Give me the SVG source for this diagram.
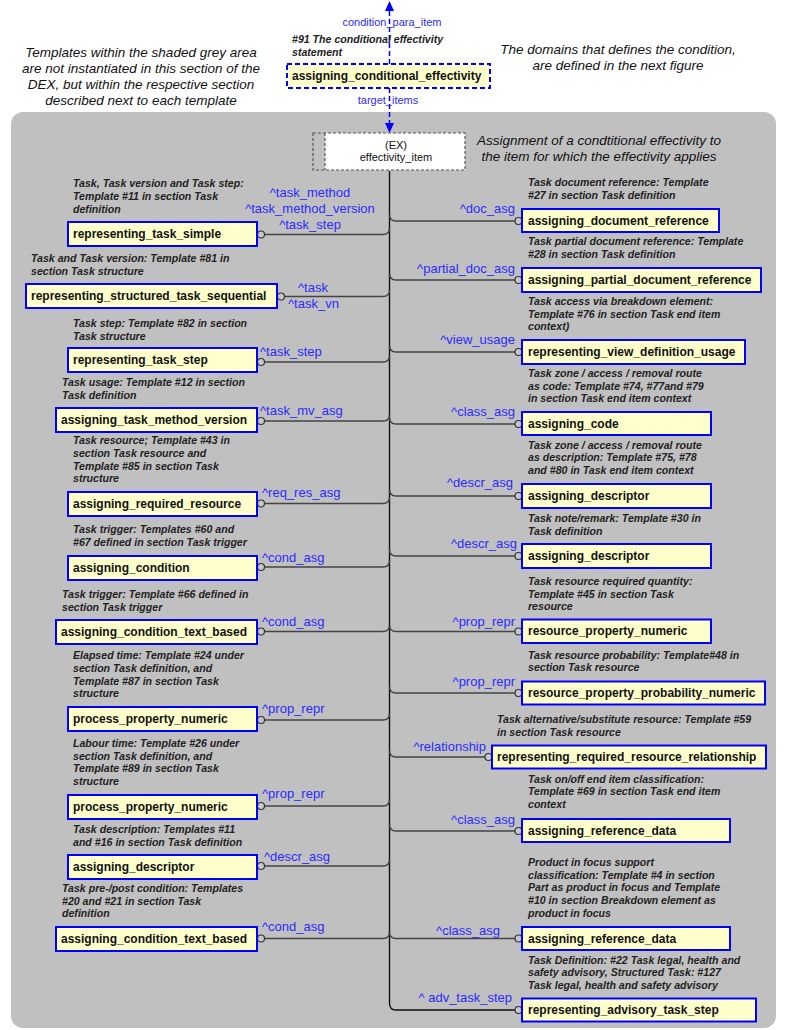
<svg xmlns="http://www.w3.org/2000/svg" width="787" height="1030" viewBox="0 0 787 1030">
<style>
.node{fill:#ffffcc;stroke:#0000ff;stroke-width:2}
.nt{font-family:"Liberation Sans",Arial,sans-serif;font-size:12px;font-weight:bold;fill:#111}
.ann{font-family:"Liberation Sans",Arial,sans-serif;font-size:10.6px;font-weight:bold;font-style:italic;fill:#222}
.lbl{font-family:"Liberation Sans",Arial,sans-serif;font-size:13px;fill:#2b2bff}
.sml{font-family:"Liberation Sans",Arial,sans-serif;font-size:11px;fill:#2b2bff}
.note{font-family:"Liberation Sans",Arial,sans-serif;font-size:13.5px;font-style:italic;fill:#111}
.conn{fill:none;stroke:#444;stroke-width:1.4}
.end{fill:#c8c8c8;stroke:#333;stroke-width:1.2}
.dash{fill:none;stroke:#0000ff;stroke-width:1.5;stroke-dasharray:5,3}
</style>
<rect x="11" y="112" width="765" height="916" rx="12" fill="#c0c0c0"/>
<text class="note" text-anchor="middle"><tspan x="141" y="57">Templates within the shaded grey area</tspan><tspan x="141" y="73">are not instantiated in this section of the</tspan><tspan x="141" y="89">DEX, but within the respective section</tspan><tspan x="141" y="105">described next to each template</tspan></text>
<text class="note" text-anchor="middle"><tspan x="618" y="54">The domains that defines the condition,</tspan><tspan x="618" y="70">are defined in the next figure</tspan></text>
<text class="note" text-anchor="middle"><tspan x="599" y="145">Assignment of a condtitional effectivity to</tspan><tspan x="599" y="161">the item for which the effectivity applies</tspan></text>

<g id="connectors">
<path class="dash" d="M389.5,64 V10"/>
<polygon points="389.5,1 385,11 394,11" fill="#0000ff"/>
<path class="dash" d="M389.5,88 V124"/>
<polygon points="389.5,133 385,123 394,123" fill="#0000ff"/>
<text class="sml" x="392" y="26" text-anchor="middle">condition_para_item</text>
<text class="sml" x="388" y="104" text-anchor="middle">target_items</text>
<path d="M389.5,171 V1003 Q389.5,1010 396,1010 H515" fill="none" stroke="#111" stroke-width="1.4"/>
<!-- left connectors -->
<path class="conn" d="M264.5,234.5 H383 Q389.5,234.5 389.5,228"/>
<path class="conn" d="M284.5,296.5 H383 Q389.5,296.5 389.5,290"/>
<path class="conn" d="M264.5,362 H383 Q389.5,362 389.5,355.5"/>
<path class="conn" d="M264.5,421 H383 Q389.5,421 389.5,414.5"/>
<path class="conn" d="M264.5,503.5 H383 Q389.5,503.5 389.5,497"/>
<path class="conn" d="M264.5,567 H383 Q389.5,567 389.5,560.5"/>
<path class="conn" d="M264.5,631.5 H383 Q389.5,631.5 389.5,625"/>
<path class="conn" d="M264.5,720 H383 Q389.5,720 389.5,713.5"/>
<path class="conn" d="M264.5,806 H383 Q389.5,806 389.5,799.5"/>
<path class="conn" d="M264.5,866 H383 Q389.5,866 389.5,859.5"/>
<path class="conn" d="M264.5,938.5 H383 Q389.5,938.5 389.5,932"/>
<circle class="end" cx="261" cy="234.5" r="3.5"/>
<circle class="end" cx="281" cy="296.5" r="3.5"/>
<circle class="end" cx="261" cy="362" r="3.5"/>
<circle class="end" cx="261" cy="421" r="3.5"/>
<circle class="end" cx="261" cy="503.5" r="3.5"/>
<circle class="end" cx="261" cy="567" r="3.5"/>
<circle class="end" cx="261" cy="631.5" r="3.5"/>
<circle class="end" cx="261" cy="720" r="3.5"/>
<circle class="end" cx="261" cy="806" r="3.5"/>
<circle class="end" cx="261" cy="866" r="3.5"/>
<circle class="end" cx="261" cy="938.5" r="3.5"/>
<!-- right connectors -->
<path class="conn" d="M389.5,214.5 Q389.5,221 396,221 H515"/>
<path class="conn" d="M389.5,273.5 Q389.5,280 396,280 H515"/>
<path class="conn" d="M389.5,345.5 Q389.5,352 396,352 H515"/>
<path class="conn" d="M389.5,417.5 Q389.5,424 396,424 H515"/>
<path class="conn" d="M389.5,489.5 Q389.5,496 396,496 H515"/>
<path class="conn" d="M389.5,549.5 Q389.5,556 396,556 H515"/>
<path class="conn" d="M389.5,625 Q389.5,631.5 396,631.5 H515"/>
<path class="conn" d="M389.5,686.5 Q389.5,693 396,693 H515"/>
<path class="conn" d="M389.5,750.5 Q389.5,757 396,757 H485"/>
<path class="conn" d="M389.5,824.5 Q389.5,831 396,831 H515"/>
<path class="conn" d="M389.5,932 Q389.5,938.5 396,938.5 H515"/>
<circle class="end" cx="518.5" cy="221" r="3.5"/>
<circle class="end" cx="518.5" cy="280" r="3.5"/>
<circle class="end" cx="518.5" cy="352" r="3.5"/>
<circle class="end" cx="518.5" cy="424" r="3.5"/>
<circle class="end" cx="518.5" cy="496" r="3.5"/>
<circle class="end" cx="518.5" cy="556" r="3.5"/>
<circle class="end" cx="518.5" cy="631.5" r="3.5"/>
<circle class="end" cx="518.5" cy="693" r="3.5"/>
<circle class="end" cx="488.5" cy="757" r="3.5"/>
<circle class="end" cx="518.5" cy="831" r="3.5"/>
<circle class="end" cx="518.5" cy="938.5" r="3.5"/>
<circle class="end" cx="518.5" cy="1010" r="3.5"/>
<!-- left labels -->
<text class="lbl" text-anchor="middle"><tspan x="310" y="197">^task_method</tspan><tspan x="310" y="213">^task_method_version</tspan><tspan x="310" y="229">^task_step</tspan></text>
<text class="lbl" x="298" y="292">^task</text>
<text class="lbl" x="288" y="308">^task_vn</text>
<text class="lbl" x="260" y="356">^task_step</text>
<text class="lbl" x="260" y="415">^task_mv_asg</text>
<text class="lbl" x="262" y="497">^req_res_asg</text>
<text class="lbl" x="262" y="562">^cond_asg</text>
<text class="lbl" x="262" y="626">^cond_asg</text>
<text class="lbl" x="262" y="713">^prop_repr</text>
<text class="lbl" x="262" y="798">^prop_repr</text>
<text class="lbl" x="264" y="861">^descr_asg</text>
<text class="lbl" x="262" y="931">^cond_asg</text>
<!-- right labels -->
<g class="lbl" text-anchor="end">
<text x="515" y="213">^doc_asg</text>
<text x="515" y="273">^partial_doc_asg</text>
<text x="515" y="344">^view_usage</text>
<text x="515" y="416">^class_asg</text>
<text x="513" y="487">^descr_asg</text>
<text x="517" y="548">^descr_asg</text>
<text x="515" y="626">^prop_repr</text>
<text x="515" y="686">^prop_repr</text>
<text x="486" y="751">^relationship</text>
<text x="515" y="824">^class_asg</text>
<text x="500" y="935">^class_asg</text>
<text x="512" y="1002">^ adv_task_step</text>
</g>
</g>

<g id="n_assigning_conditional_effectivity">
<rect x="287" y="64" width="203" height="24" fill="#ffffcc" stroke="#0000ff" stroke-width="2" stroke-dasharray="5,3"/>
<text class="nt" x="292" y="80">assigning_conditional_effectivity</text>
<text class="ann"><tspan x="292" y="43">#91 The conditional effectivity</tspan><tspan x="292" y="56">statement</tspan></text>
</g>

<g id="n_effectivity_item">
<rect x="325" y="133" width="140" height="37" fill="#ffffff"/>
<rect x="313" y="133" width="152" height="37" fill="none" stroke="#555" stroke-width="1.2" stroke-dasharray="3,2"/>
<line x1="325" y1="133" x2="325" y2="170" stroke="#555" stroke-width="1.2" stroke-dasharray="3,2"/>
<text x="396" y="149" text-anchor="middle" font-family="Liberation Sans, Arial, sans-serif" font-size="11" fill="#111">(EX)</text>
<text x="396" y="161" text-anchor="middle" font-family="Liberation Sans, Arial, sans-serif" font-size="11" fill="#111">effectivity_item</text>
</g>

<g id="L1"><rect class="node" x="68" y="222" width="189" height="24"/><text class="nt" x="73" y="238">representing_task_simple</text>
<text class="ann"><tspan x="73" y="187">Task, Task version and Task step:</tspan><tspan x="73" y="200">Template #11 in section Task</tspan><tspan x="73" y="213">definition</tspan></text></g>
<g id="L2"><rect class="node" x="26" y="284" width="251" height="24"/><text class="nt" x="31" y="300">representing_structured_task_sequential</text>
<text class="ann"><tspan x="31" y="262">Task and Task version: Template #81 in</tspan><tspan x="31" y="274.5">section Task structure</tspan></text></g>
<g id="L3"><rect class="node" x="68" y="348" width="189" height="24"/><text class="nt" x="73" y="364">representing_task_step</text>
<text class="ann"><tspan x="73" y="327">Task step: Template #82 in section</tspan><tspan x="73" y="339.5">Task structure</tspan></text></g>
<g id="L4"><rect class="node" x="56" y="408" width="201" height="24"/><text class="nt" x="61" y="424">assigning_task_method_version</text>
<text class="ann"><tspan x="62" y="386">Task usage: Template #12 in section</tspan><tspan x="62" y="398.5">Task definition</tspan></text></g>
<g id="L5"><rect class="node" x="68" y="492" width="189" height="24"/><text class="nt" x="73" y="508">assigning_required_resource</text>
<text class="ann"><tspan x="73" y="444">Task resource; Template #43 in</tspan><tspan x="73" y="457">section Task resource and</tspan><tspan x="73" y="470">Template #85 in section Task</tspan><tspan x="73" y="482">structure</tspan></text></g>
<g id="L6"><rect class="node" x="68" y="556" width="189" height="24"/><text class="nt" x="73" y="572">assigning_condition</text>
<text class="ann"><tspan x="73" y="533">Task trigger: Templates #60 and</tspan><tspan x="73" y="546">#67 defined in section Task trigger</tspan></text></g>
<g id="L7"><rect class="node" x="56" y="620" width="201" height="24"/><text class="nt" x="61" y="636">assigning_condition_text_based</text>
<text class="ann"><tspan x="62" y="598">Task trigger: Template #66 defined in</tspan><tspan x="62" y="610.5">section Task trigger</tspan></text></g>
<g id="L8"><rect class="node" x="68" y="707" width="189" height="24"/><text class="nt" x="73" y="723">process_property_numeric</text>
<text class="ann"><tspan x="73" y="659">Elapsed time: Template #24 under</tspan><tspan x="73" y="672">section Task definition, and</tspan><tspan x="73" y="685">Template #87 in section Task</tspan><tspan x="73" y="697">structure</tspan></text></g>
<g id="L9"><rect class="node" x="68" y="795" width="189" height="24"/><text class="nt" x="73" y="811">process_property_numeric</text>
<text class="ann"><tspan x="73" y="747">Labour time: Template #26 under</tspan><tspan x="73" y="759.5">section Task definition, and</tspan><tspan x="73" y="772">Template #89 in section Task</tspan><tspan x="73" y="785">structure</tspan></text></g>
<g id="L10"><rect class="node" x="68" y="855" width="189" height="24"/><text class="nt" x="73" y="871">assigning_descriptor</text>
<text class="ann"><tspan x="73" y="833">Task description: Templates #11</tspan><tspan x="73" y="846">and #16 in section Task definition</tspan></text></g>
<g id="L11"><rect class="node" x="56" y="927" width="201" height="24"/><text class="nt" x="61" y="943">assigning_condition_text_based</text>
<text class="ann"><tspan x="62" y="892">Task pre-/post condition: Templates</tspan><tspan x="62" y="905">#20 and #21 in section Task</tspan><tspan x="62" y="917">definition</tspan></text></g>

<g id="R1"><rect class="node" x="522" y="209" width="197" height="23"/><text class="nt" x="528" y="225">assigning_document_reference</text>
<text class="ann"><tspan x="528" y="186">Task document reference: Template</tspan><tspan x="528" y="199">#27 in section Task definition</tspan></text></g>
<g id="R2"><rect class="node" x="522" y="268" width="239" height="24"/><text class="nt" x="528" y="284">assigning_partial_document_reference</text>
<text class="ann"><tspan x="528" y="245">Task partial document reference: Template</tspan><tspan x="528" y="258">#28 in section Task definition</tspan></text></g>
<g id="R3"><rect class="node" x="522" y="340" width="223" height="24"/><text class="nt" x="528" y="356">representing_view_definition_usage</text>
<text class="ann"><tspan x="528" y="305">Task access via breakdown element:</tspan><tspan x="528" y="318">Template #76 in section Task end item</tspan><tspan x="528" y="330">context)</tspan></text></g>
<g id="R4"><rect class="node" x="522" y="412" width="189" height="23"/><text class="nt" x="528" y="428">assigning_code</text>
<text class="ann"><tspan x="528" y="377">Task zone / access / removal route</tspan><tspan x="528" y="389.5">as code: Template #74, #77and #79</tspan><tspan x="528" y="402">in section Task end item context</tspan></text></g>
<g id="R5"><rect class="node" x="522" y="484" width="189" height="24"/><text class="nt" x="528" y="500">assigning_descriptor</text>
<text class="ann"><tspan x="528" y="448.5">Task zone / access / removal route</tspan><tspan x="528" y="461">as description: Template #75, #78</tspan><tspan x="528" y="473.5">and #80 in Task end item context</tspan></text></g>
<g id="R6"><rect class="node" x="522" y="544" width="189" height="24"/><text class="nt" x="528" y="560">assigning_descriptor</text>
<text class="ann"><tspan x="528" y="522">Task note/remark: Template #30 in</tspan><tspan x="528" y="534.5">Task definition</tspan></text></g>
<g id="R7"><rect class="node" x="522" y="619.5" width="189" height="23.5"/><text class="nt" x="528" y="635">resource_property_numeric</text>
<text class="ann"><tspan x="528" y="585">Task resource required quantity:</tspan><tspan x="528" y="598">Template #45 in section Task</tspan><tspan x="528" y="610">resource</tspan></text></g>
<g id="R8"><rect class="node" x="522" y="681.5" width="243" height="23"/><text class="nt" x="528" y="697">resource_property_probability_numeric</text>
<text class="ann"><tspan x="528" y="658.5">Task resource probability: Template#48 in</tspan><tspan x="528" y="671">section Task resource</tspan></text></g>
<g id="R9"><rect class="node" x="492" y="745.5" width="274" height="23"/><text class="nt" x="497" y="761">representing_required_resource_relationship</text>
<text class="ann"><tspan x="497" y="723">Task alternative/substitute resource: Template #59</tspan><tspan x="497" y="735.5">in section Task resource</tspan></text></g>
<g id="R10"><rect class="node" x="522" y="819" width="208" height="23"/><text class="nt" x="528" y="835">assigning_reference_data</text>
<text class="ann"><tspan x="528" y="782.5">Task on/off end item classification:</tspan><tspan x="528" y="795">Template #69 in section Task end item</tspan><tspan x="528" y="807.5">context</tspan></text></g>
<g id="R11"><rect class="node" x="522" y="927" width="208" height="23"/><text class="nt" x="528" y="943">assigning_reference_data</text>
<text class="ann"><tspan x="528" y="866">Product in focus support</tspan><tspan x="528" y="879">classification: Template #4 in section</tspan><tspan x="528" y="891">Part as product in focus and Template</tspan><tspan x="528" y="904">#10 in section Breakdown element as</tspan><tspan x="528" y="917">product in focus</tspan></text></g>
<g id="R12"><rect class="node" x="522" y="998.5" width="234" height="23"/><text class="nt" x="528" y="1014">representing_advisory_task_step</text>
<text class="ann"><tspan x="528" y="963.5">Task Definition: #22 Task legal, health and</tspan><tspan x="528" y="976">safety advisory, Structured Task: #127</tspan><tspan x="528" y="989">Task legal, health and safety advisory</tspan></text></g>
</svg>
